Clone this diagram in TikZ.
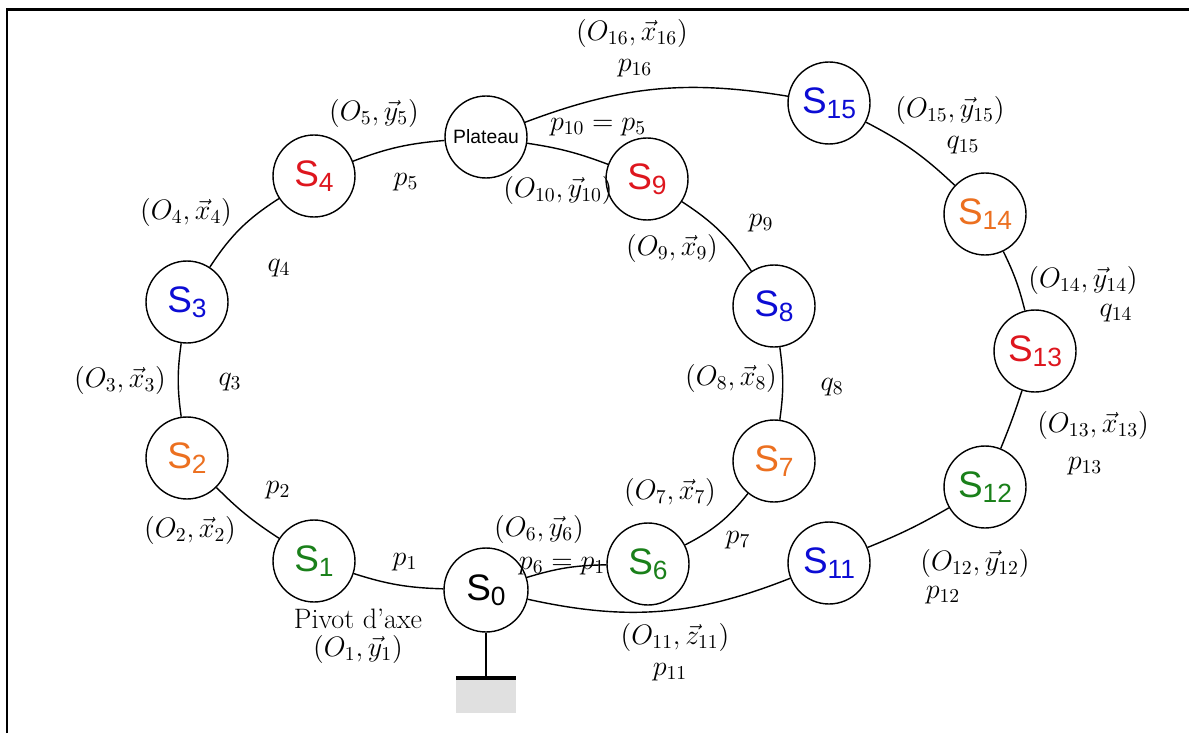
\RequirePackage{fix-cm}
\documentclass[tikz,border=0pt]{standalone}
\usepackage{amsmath, amssymb}
\usepackage{fontspec}
\setsansfont{Liberation Sans}
\usepackage{tikz}
\usetikzlibrary{positioning, calc}
\usepackage{xcolor}
\definecolor{SolRouge}{RGB}{222,22,30}
\definecolor{SolBleu}{RGB}{12,12,212}
\definecolor{SolOrange}{RGB}{236,112,32}
\definecolor{SolVert}{RGB}{26,128,26}
\colorlet{SolNoir}{black}
\newcommand{\Snom}[2]{\textcolor{#1}{{\sffamily\fontsize{21}{21}\selectfont S}\raisebox{-3pt}{\sffamily\fontsize{15}{15}\selectfont #2}}}

\begin{document}
\begin{tikzpicture}[x=0.02cm, y=-0.02cm, font=\fontsize{16}{19}\selectfont,
  solide/.style={circle, draw, line width=0.8pt, minimum size=1.64cm, inner sep=0pt, fill=white},
  liaison/.style={line width=0.8pt}]
  \useasboundingbox (0,0) rectangle (1189,733);
  \draw[line width=1.6pt] (7,733) -- (7,9.5) -- (1189,9.5);
  % solides
  \node[solide, minimum size=1.68cm] (S0) at (486,590) {\Snom{SolNoir}{0}};
  \node[solide] (S1) at (314,561) {\Snom{SolVert}{1}};
  \node[solide] (S2) at (187,458) {\Snom{SolOrange}{2}};
  \node[solide] (S3) at (187,302) {\Snom{SolBleu}{3}};
  \node[solide] (S4) at (314,176) {\Snom{SolRouge}{4}};
  \node[solide] (plateau) at (486,137) {\sffamily\fontsize{11}{12}\selectfont Plateau};
  \node[solide] (S9) at (647,179) {\Snom{SolRouge}{9}};
  \node[solide] (S8) at (774,306) {\Snom{SolBleu}{8}};
  \node[solide] (S7) at (774,461) {\Snom{SolOrange}{7}};
  \node[solide] (S6) at (648,564) {\Snom{SolVert}{6}};
  \node[solide] (S11) at (829,563) {\Snom{SolBleu}{11}};
  \node[solide] (S12) at (985,487) {\Snom{SolVert}{12}};
  \node[solide] (S13) at (1035,351) {\Snom{SolRouge}{13}};
  \node[solide] (S14) at (985,214) {\Snom{SolOrange}{14}};
  \node[solide] (S15) at (829,103) {\Snom{SolBleu}{15}};
  % boucle interieure
  \draw[liaison] (S0) to[bend left=8] (S1);
  \draw[liaison] (S1) to[bend left=6] (S2);
  \draw[liaison] (S2) to[bend left=8] (S3);
  \draw[liaison] (S3) to[bend left=12] (S4);
  \draw[liaison] (S4) to[bend left=8] (plateau);
  \draw[liaison] (plateau) to[bend left=6] (S9);
  \draw[liaison] (S9) to[bend left=12] (S8);
  \draw[liaison] (S8) to[bend left=8] (S7);
  \draw[liaison] (S7) to[bend left=12] (S6);
  \draw[liaison] (S6) to[bend right=8] (S0);
  % boucle exterieure
  \draw[liaison] (S0) to[bend right=17] (S11);
  \draw[liaison] (S11) to[bend right=4] (S12);
  \draw[liaison] (S12) to[bend right=2] (S13);
  \draw[liaison] (S13) to[bend right=6] (S14);
  \draw[liaison] (S14) to[bend right=8] (S15);
  \draw[liaison] (S15) to[bend right=15] (plateau);
  % bati
  \coordinate (bati) at (486,678);
  \fill[black!12] (456,680) rectangle (516,713);
  \draw[line width=2.2pt] (456,678) -- (516,678);
  \draw[liaison] (S0) -- (bati);
  % liaisons
  \node (lO16) at (632,33) {$(O_{16},\vec{x}_{16})$};
  \node (lp16) at (635,68) {$p_{16}$};
  \node (lO15) at (950,110) {$(O_{15},\vec{y}_{15})$};
  \node (lq15) at (963,145) {$q_{15}$};
  \node (lO5) at (374,113) {$(O_5,\vec{y}_5)$};
  \node (lp10) at (598,127) {$p_{10}=p_5$};
  \node (lp5) at (406,182) {$p_5$};
  \node (lO10) at (558,190) {$(O_{10},\vec{y}_{10})$};
  \node (lO4) at (186,212) {$(O_4,\vec{x}_4)$};
  \node (lq4) at (279,268) {$q_4$};
  \node (lO9) at (672,248) {$(O_9,\vec{x}_9)$};
  \node (lp9) at (761,223) {$p_9$};
  \node (lO14) at (1083,280) {$(O_{14},\vec{y}_{14})$};
  \node (lq14) at (1116,313) {$q_{14}$};
  \node (lO3) at (120,380) {$(O_3,\vec{x}_3)$};
  \node (lq3) at (230,382) {$q_3$};
  \node (lO8) at (731,378) {$(O_8,\vec{x}_8)$};
  \node (lq8) at (832,387) {$q_8$};
  \node (lO13) at (1093,425) {$(O_{13},\vec{x}_{13})$};
  \node (lp13) at (1085,466) {$p_{13}$};
  \node (lp2) at (278,490) {$p_2$};
  \node (lO2) at (190,530) {$(O_2,\vec{x}_2)$};
  \node (lO7) at (670,492) {$(O_7,\vec{x}_7)$};
  \node (lO6) at (539,529) {$(O_6,\vec{y}_6)$};
  \node (lp1) at (405,562) {$p_1$};
  \node (lp6) at (562,566) {$p_6=p_1$};
  \node (lp7) at (738,540) {$p_7$};
  \node (lO12) at (975,563) {$(O_{12},\vec{y}_{12})$};
  \node (lp12) at (943,595) {$p_{12}$};
  \node (lO1) at (358,636) [align=center] {Pivot d'axe\\[-3pt]$(O_1,\vec{y}_1)$};
  \node (lO11) at (675,637) {$(O_{11},\vec{z}_{11})$};
  \node (lp11) at (670,672) {$p_{11}$};
\end{tikzpicture}
\end{document}
